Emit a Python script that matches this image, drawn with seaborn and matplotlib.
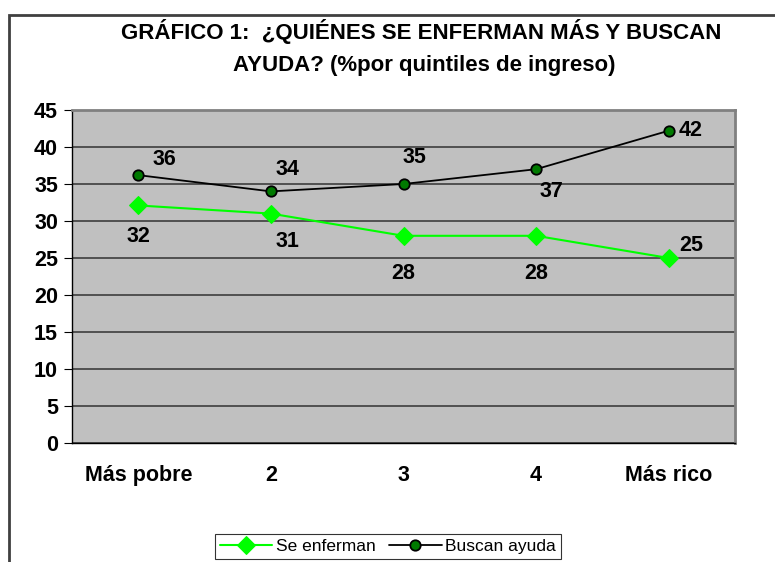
import matplotlib
matplotlib.use("Agg")
import matplotlib.pyplot as plt
import matplotlib.patches as mpatches
import seaborn as sns
import pandas as pd
import numpy as np

quintiles = ["Más pobre", "2", "3", "4", "Más rico"]
se_enferman = [32.1, 31.0, 28.0, 28.0, 25.0]
buscan_ayuda = [36.2, 34.0, 35.0, 37.0, 42.2]

# label offsets in points (dx, dy) per point
off_enf = [(0, -22), (12, -20), (0, -27), (0, -27), (16, 9)]
off_bus = [(19, 11), (12, 16), (8, 19), (11, -16), (16, 0)]

sns.set_style("white")
plt.rcParams['font.family'] = ['Liberation Sans', 'DejaVu Sans']
plt.rcParams['text.color'] = 'black'
plt.rcParams['xtick.color'] = 'black'
plt.rcParams['ytick.color'] = 'black'

fig = plt.figure(figsize=(7.75, 5.62), dpi=100)
ax = fig.add_axes([72 / 775, 1 - 443 / 562, 663 / 775, 333 / 562])
ax.set_facecolor("#c0c0c0")

sns.lineplot(x=range(5), y=se_enferman, ax=ax, color="#00ff00", lw=1.5, marker="D", ms=9,
             mfc="#00ff00", mec="#00ff00", label="Se enferman", zorder=3, legend=False)
sns.lineplot(x=range(5), y=buscan_ayuda, ax=ax, color="black", lw=1.3, marker="o", ms=7.5,
             mfc="#007a00", mec="black", mew=1.3, label="Buscan ayuda", zorder=3, legend=False)

lbl = dict(fontsize=15.5, fontweight="bold", ha="center", va="center",
           textcoords="offset points")
for i, v in enumerate(se_enferman):
    ax.annotate(f"{v:.0f}", (i, v), xytext=off_enf[i], **lbl)
for i, v in enumerate(buscan_ayuda):
    ax.annotate(f"{v:.0f}", (i, v), xytext=off_bus[i], **lbl)

ax.set_xlim(-0.5, 4.5)
ax.set_ylim(0, 45)
ax.set_yticks(range(0, 46, 5))
ax.yaxis.grid(True, color="#333333", lw=1.1)
ax.set_axisbelow(True)
ax.set_xticks(range(5))
ax.set_xticklabels(quintiles)
ax.set_xticks(np.arange(-0.5, 4.6, 1), minor=True)
ax.tick_params(axis="x", which="major", length=0, pad=16)
ax.tick_params(axis="x", which="minor", length=6, direction="out", color="black")
ax.tick_params(axis="y", length=6, direction="out", color="black", pad=4, left=True)
for t in ax.get_xticklabels() + ax.get_yticklabels():
    t.set_fontweight("bold")
    t.set_fontsize(15.5)
for s in ["top", "right"]:
    ax.spines[s].set_color("#808080")
    ax.spines[s].set_linewidth(2)
for s in ["left", "bottom"]:
    ax.spines[s].set_color("black")
    ax.spines[s].set_linewidth(1)

fig.text(0.543, 1 - 32 / 562, "GRÁFICO 1:  ¿QUIÉNES SE ENFERMAN MÁS Y BUSCAN",
         ha="center", va="center", fontsize=16, fontweight="bold")
fig.text(0.547, 1 - 66 / 562, "AYUDA? (%por quintiles de ingreso)",
         ha="center", va="center", fontsize=16, fontweight="bold")

handles, labels = ax.get_legend_handles_labels()
leg = fig.legend(handles, labels, loc="lower center", bbox_to_anchor=(388 / 775, -6 / 562),
                 ncol=2, frameon=True, fancybox=False, edgecolor="black", fontsize=12.5,
                 handlelength=3.0, handletextpad=0.2, columnspacing=0.8, borderpad=0.3)
leg.get_frame().set_linewidth(0.8)

fig.patches.append(mpatches.Rectangle((9 / 775, -0.2), 1.2, 1 - 15 / 562 + 0.2,
                                      transform=fig.transFigure, fill=False,
                                      edgecolor="#404040", lw=2))

fig.savefig("out.png", dpi=100)
